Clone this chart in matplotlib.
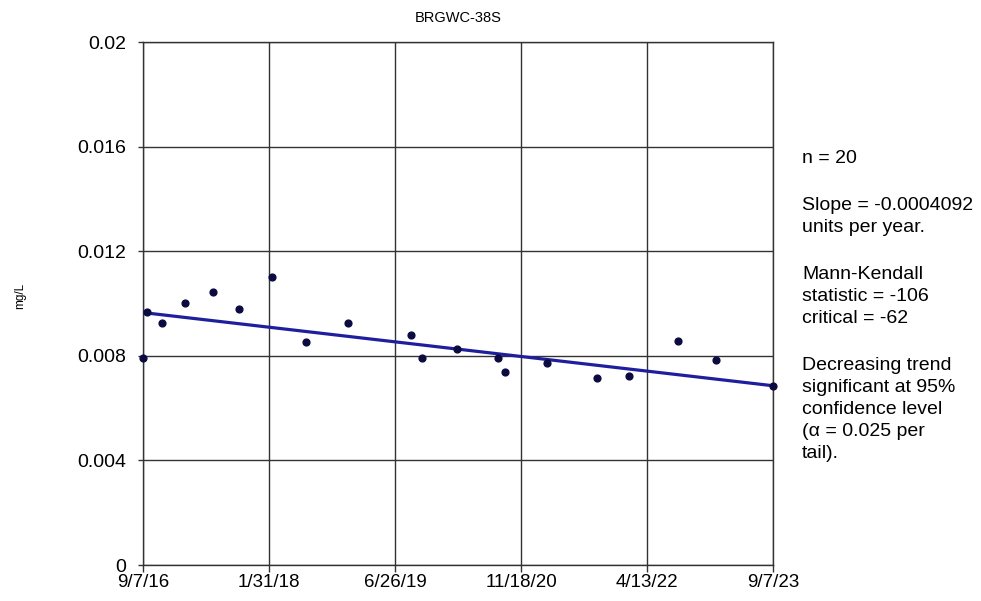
import numpy as np
import pandas as pd
import matplotlib
matplotlib.use("Agg")
import matplotlib.pyplot as plt
import matplotlib.dates as mdates

plt.rcParams["font.family"] = ["Liberation Sans", "DejaVu Sans"]

# sample dates and concentrations (mg/L)
dates = ["2016-09-07", "2016-09-21", "2016-11-21", "2017-02-23", "2017-06-16",
         "2017-09-29", "2018-02-13", "2018-06-28", "2018-12-16", "2019-08-28",
         "2019-10-14", "2020-03-02", "2020-08-17", "2020-09-15", "2021-03-05",
         "2021-09-22", "2022-01-30", "2022-08-18", "2023-01-18", "2023-09-05"]
values = [0.00792, 0.00967, 0.00926, 0.01004, 0.01043,
          0.00981, 0.01103, 0.00853, 0.00926, 0.00881,
          0.00792, 0.00826, 0.00791, 0.00737, 0.00775,
          0.00714, 0.00724, 0.00858, 0.00785, 0.00686]

trend_dates = ["2016-09-07", "2023-09-07"]
trend_values = [0.00966, 0.00686]

tick_dates = ["2016-09-07", "2018-01-31", "2019-06-26", "2020-11-18", "2022-04-13", "2023-09-07"]
tick_labels = ["9/7/16", "1/31/18", "6/26/19", "11/18/20", "4/13/22", "9/7/23"]
y_ticks = [0, 0.004, 0.008, 0.012, 0.016, 0.02]
y_labels = ["0", "0.004", "0.008", "0.012", "0.016", "0.02"]

stats_blocks = [
    ["n = 20"],
    ["Slope = -0.0004092", "units per year."],
    ["Mann-Kendall", "statistic = -106", "critical = -62"],
    ["Decreasing trend", "significant at 95%", "confidence level",
     "(\u03b1 = 0.025 per", "tail)."],
]

x = pd.to_datetime(dates)
tx = pd.to_datetime(trend_dates)
ticks = pd.to_datetime(tick_dates)

fig = plt.figure(figsize=(9.81, 6.01), dpi=100)
ax = fig.add_axes([0.1461, 0.0599, 0.642, 0.8695])

ax.plot(tx, trend_values, color="#1f1f9e", linewidth=2.3, zorder=3)
ax.scatter(x, values, s=24, color="#0b0b40", zorder=4, clip_on=False)

ax.set_xlim(ticks[0], ticks[-1])
ax.set_ylim(0, 0.02)
ax.set_xticks(ticks)
ax.set_xticklabels(tick_labels)
ax.set_yticks(y_ticks)
ax.set_yticklabels(y_labels)
ax.tick_params(width=1, color="#333333", direction="out")
ax.tick_params(axis="y", labelsize=14, length=3.5, pad=9)
ax.tick_params(axis="x", labelsize=13.5, length=5, pad=1.5)
ax.grid(True, color="#333333", linewidth=1)
for s in ["top", "right", "left", "bottom"]:
    ax.spines[s].set_color("#333333")
    ax.spines[s].set_linewidth(1)
ax.set_axisbelow(True)

ax.set_title("BRGWC-38S", fontsize=10.5, pad=15)
fig.text(0.021, 0.508, "mg/L", rotation=90, fontsize=8.5, ha="center", va="center")

# stats text on the right
y_pos = 158.5
line_h = 22.2
for block in stats_blocks:
    for line in block:
        fig.text(802 / 981, 1 - y_pos / 601, line, fontsize=14, ha="left", va="center")
        y_pos += line_h
    y_pos += 24.5

fig.savefig("out.png", dpi=100)
